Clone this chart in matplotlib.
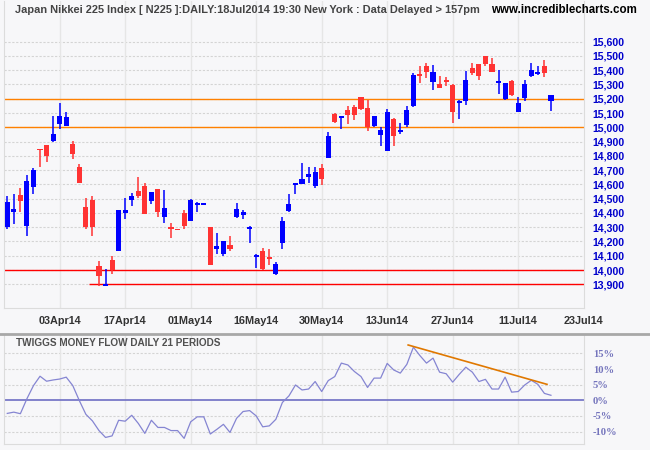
"""
Nikkei 225 daily candlesticks with Twiggs Money Flow panel
(recreation of an incrediblecharts.com chart)
"""

import numpy as np
import matplotlib
matplotlib.use("Agg")
import matplotlib.pyplot as plt

# ---- data ----
opens = [14305, 14410, 14525, 14310, 14585, 14850, 14875, 14905, 15020, 15010,
         14885, 14720, 14440, 14490, 14030, 13890, 14070, 14130, 14400, 14490,
         14555, 14590, 14485, 14570, 14375, 14295, 14285, 14400, 14345, 14463,
         14462, 14300, 14145, 14110, 14175, 14375, 14385, 14285, 14096, 14135,
         14090, 13975, 14190, 14415, 14600, 14600, 14655, 14590, 14715, 14785,
         15095, 15070, 15120, 15140, 15210, 15135, 15010, 14945, 14835, 15060,
         14970, 15015, 15150, 15368, 15430, 15315, 15305, 15330, 15295, 15175,
         15185, 15415, 15445, 15500, 15445, 15316, 15200, 15325, 15105, 15205,
         15360, 15381, 15430, 15185]
highs = [14520, 14535, 14575, 14665, 14715, 14850, 14875, 15080, 15170, 15105,
         14905, 14745, 14505, 14520, 14065, 14005, 14100, 14420, 14505, 14540,
         14650, 14610, 14545, 14570, 14560, 14330, 14285, 14420, 14500, 14475,
         14465, 14300, 14260, 14205, 14240, 14470, 14420, 14310, 14110, 14155,
         14145, 14055, 14370, 14535, 14610, 14750, 14720, 14720, 14745, 14965,
         15100, 15080, 15150, 15155, 15210, 15190, 15080, 15000, 15130, 15065,
         15030, 15150, 15380, 15430, 15450, 15435, 15360, 15355, 15305, 15190,
         15395, 15450, 15445, 15500, 15485, 15400, 15310, 15330, 15210, 15330,
         15450, 15430, 15470, 15225]
lows = [14290, 14320, 14410, 14235, 14530, 14725, 14760, 14900, 14985, 15010,
        14775, 14610, 14285, 14240, 13890, 13890, 13975, 14130, 14360, 14450,
        14505, 14395, 14465, 14375, 14330, 14225, 14283, 14285, 14345, 14410,
        14462, 14035, 14115, 14095, 14135, 14365, 14355, 14190, 14015, 14000,
        14035, 13965, 14145, 14405, 14535, 14600, 14610, 14575, 14595, 14785,
        15030, 14990, 15025, 15050, 15120, 14975, 15000, 14870, 14835, 14870,
        14955, 15000, 15140, 15310, 15345, 15260, 15275, 15290, 15030, 15060,
        15155, 15365, 15330, 15430, 15390, 15235, 15190, 15220, 15105, 15185,
        15355, 15365, 15355, 15115]
closes = [14475, 14430, 14485, 14625, 14700, 14840, 14800, 14955, 15080, 15070,
          14815, 14610, 14305, 14305, 13960, 13905, 14000, 14420, 14420, 14520,
          14520, 14395, 14545, 14410, 14435, 14290, 14283, 14310, 14490, 14467,
          14465, 14035, 14170, 14205, 14145, 14430, 14405, 14300, 14100, 14005,
          14075, 14040, 14345, 14465, 14610, 14640, 14675, 14685, 14640, 14940,
          15035, 15074, 15085, 15085, 15130, 15000, 15080, 14980, 15105, 14940,
          14980, 15120, 15365, 15364, 15385, 15390, 15275, 15320, 15105, 15179,
          15330, 15380, 15360, 15445, 15390, 15320, 15310, 15225, 15170, 15305,
          15400, 15385, 15380, 15225]

# Twiggs Money Flow (21 periods), percent
tmf = [-4.2, -3.8, -4.3, 0.5, 4.7, 7.7, 6.1, 6.5, 6.8, 7.4,
       4.7, -0.1, -4.5, -6.6, -9.7, -11.9, -11.4, -6.4, -6.7, -4.8,
       -7.4, -10.6, -6.4, -8.7, -8.7, -9.7, -9.7, -12.2, -6.9, -5.3,
       -5.3, -10.8, -9.3, -7.7, -10.3, -5.8, -3.6, -3.3, -5.0, -8.5,
       -8.2, -6.1, -0.7, 1.4, 4.9, 3.3, 3.6, 6.0, 2.8, 6.3,
       7.6, 11.9, 11.3, 9.2, 7.6, 4.1, 7.1, 7.1, 11.8, 9.7,
       8.7, 11.5, 17.0, 14.3, 11.9, 13.5, 9.0, 8.5, 5.8, 8.3,
       10.6, 9.0, 6.0, 6.7, 3.6, 3.6, 7.4, 2.6, 2.8, 4.9,
       6.4, 5.1, 2.2, 1.6]

tick_pos = [8, 18, 28, 38, 48, 58, 68, 78, 88]
tick_labels = ['03Apr14', '17Apr14', '01May14', '16May14', '30May14',
               '13Jun14', '27Jun14', '11Jul14', '23Jul14']
price_ticks = list(range(13900, 15700, 100))
tmf_ticks = [15, 10, 5, 0, -5, -10]

# support / resistance lines drawn on the chart
orange_levels = [15200, 15000]
red_levels = [14000, 13900]
red_starts = [-0.5, 12.5]
# hand-drawn TMF trend line (index, percent)
trend_x = [61.2, 82.4]
trend_y = [17.7, 5.1]

# ---- style ----
BG = '#f7f7f9'
UP = '#0000ff'
DOWN = '#ff3333'
VGRID = '#e6e6e6'
HGRID = '#d4d4d4'
FONT = 'Liberation Sans'

W, H = 650, 450
fig = plt.figure(figsize=(W / 100, H / 100), dpi=100, facecolor=BG)


def px_axes(x0, y0, x1, y1):
    """axes from pixel box (top-left origin)"""
    return fig.add_axes([x0 / W, 1 - y1 / H, (x1 - x0) / W, (y1 - y0) / H])


xlim = (-0.5, 88)

# ---- price panel ----
ax = px_axes(4, 1, 583.7, 308)
ax.set_facecolor(BG)
ax.set_xlim(*xlim)
ax.set_ylim(13734, 15885)

for p in price_ticks:
    ax.axhline(p, color=HGRID, lw=0.8, ls=(0, (2, 1.5)), zorder=0)
for t in tick_pos[:-1]:
    ax.axvline(t, color=VGRID, lw=1, zorder=0)

for lvl in orange_levels:
    ax.axhline(lvl, color='#ff8000', lw=1, zorder=1)
for lvl, x0 in zip(red_levels, red_starts):
    ax.hlines(lvl, x0, xlim[1], color='#ff0000', lw=1, zorder=1)

o = np.array(opens, float)
h = np.array(highs, float)
l = np.array(lows, float)
c = np.array(closes, float)
idx = np.arange(len(o))
cols = np.where(c >= o, UP, DOWN)

body_h = np.maximum(np.abs(c - o), 12)
body_b = (o + c) / 2 - body_h / 2
ax.vlines(idx, l, h, colors=cols, lw=1.1, zorder=2)
ax.bar(idx, body_h, bottom=body_b, width=0.78, color=cols, lw=0, zorder=3)

ax.yaxis.tick_right()
ax.set_yticks(price_ticks)
ax.set_yticklabels([f'{p:,}' for p in price_ticks])
ax.tick_params(axis='y', length=0, pad=6.5, labelsize=7.6, labelcolor='#0000cc')
for lab in ax.get_yticklabels():
    lab.set_fontweight('bold')
    lab.set_fontfamily(FONT)

ax.set_xticks(tick_pos)
ax.set_xticklabels(tick_labels)
ax.tick_params(axis='x', length=0, pad=6, labelsize=7.8, labelcolor='#333333')
for lab in ax.get_xticklabels():
    lab.set_fontweight('bold')
    lab.set_fontfamily(FONT)

for side in ['left', 'right', 'bottom']:
    ax.spines[side].set_color('#dcdcdc')
ax.spines['top'].set_visible(False)

fig.text(15 / W, 1 - 10 / H, 'Japan Nikkei 225 Index [ N225 ]:DAILY:18Jul2014 19:30 '
         'New York : Data Delayed > 157pm', fontsize=7.9, fontweight='bold',
         color='#444444', family=FONT, va='center', ha='left')
fig.text(637 / W, 1 - 10 / H, 'www.incrediblecharts.com', fontsize=8.3,
         fontweight='bold', color='#000000', family=FONT, va='center', ha='right')

# separator between panels
fig.add_artist(plt.Line2D([0, 1], [1 - 333.5 / H] * 2, color='#a8a8a8', lw=2))

# ---- money flow panel ----
ax2 = px_axes(4, 335, 583.7, 444)
ax2.set_facecolor(BG)
ax2.set_xlim(*xlim)
ax2.set_ylim(-14.0, 20.9)

for t in tmf_ticks:
    if t != 0:
        ax2.axhline(t, color=HGRID, lw=0.8, ls=(0, (2, 1.5)), zorder=0)
for t in tick_pos[:-1]:
    ax2.axvline(t, color=VGRID, lw=1, zorder=0)

ax2.axhline(0, color='#6e6ec4', lw=1.2, zorder=1)
ax2.plot(idx, tmf, color='#8585d2', lw=0.9, zorder=2)
ax2.plot(trend_x, trend_y, color='#e07800', lw=1.2, zorder=3)

ax2.set_xticks([])
ax2.yaxis.tick_right()
ax2.set_yticks(tmf_ticks)
ax2.set_yticklabels([f'{t}%' for t in tmf_ticks])
ax2.tick_params(axis='y', length=0, pad=6.5, labelsize=7.6, labelcolor='#7474bc')
for lab in ax2.get_yticklabels():
    lab.set_fontweight('bold')
    lab.set_fontfamily('Liberation Serif')

for side in ['left', 'right', 'bottom']:
    ax2.spines[side].set_color('#dcdcdc')
ax2.spines['top'].set_visible(False)

ax2.text(0.02, 0.93, 'TWIGGS MONEY FLOW DAILY 21 PERIODS', transform=ax2.transAxes,
         fontsize=7.2, fontweight='bold', color='#505050', family=FONT,
         va='center', ha='left')

fig.savefig('out.png', dpi=100, facecolor=BG)
